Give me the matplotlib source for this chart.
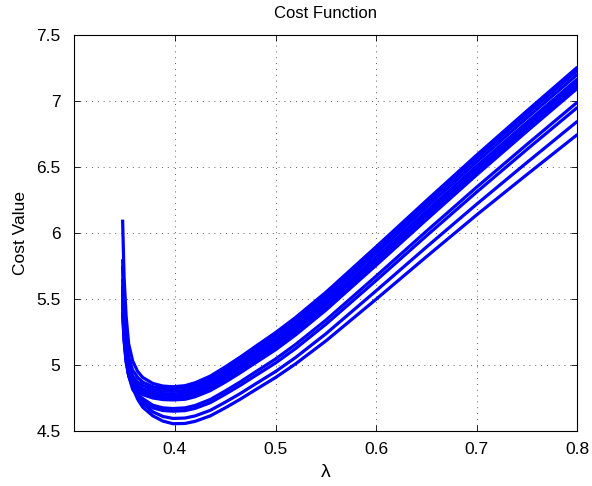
import numpy as np
import matplotlib
matplotlib.use("Agg")
import matplotlib.pyplot as plt

plt.rcParams['font.family'] = ['Liberation Sans', 'DejaVu Sans']

# lambda sample positions
lam = [0.348, 0.3495, 0.3515, 0.354, 0.358, 0.363, 0.368, 0.378, 0.388,
       0.398, 0.41, 0.42, 0.435, 0.45, 0.465, 0.48, 0.50, 0.52, 0.55,
       0.60, 0.65, 0.70, 0.75, 0.80]

# cost curves, top to bottom
cost_1 = [6.10, 5.66, 5.37, 5.16, 5.03, 4.95, 4.905, 4.86, 4.84,
          4.835, 4.843, 4.865, 4.915, 4.985, 5.060, 5.140, 5.245, 5.360, 5.550,
          5.895, 6.245, 6.590, 6.925, 7.255]
cost_2 = [5.80, 5.45, 5.22, 5.06, 4.96, 4.905, 4.87, 4.835, 4.823,
          4.820, 4.828, 4.849, 4.898, 4.968, 5.042, 5.121, 5.225, 5.340, 5.529,
          5.873, 6.223, 6.567, 6.901, 7.230]
cost_3 = [5.60, 5.32, 5.13, 5.00, 4.915, 4.87, 4.845, 4.815, 4.803,
          4.800, 4.807, 4.828, 4.877, 4.945, 5.019, 5.097, 5.200, 5.314, 5.503,
          5.847, 6.195, 6.538, 6.872, 7.200]
cost_4 = [5.50, 5.26, 5.08, 4.965, 4.89, 4.845, 4.82, 4.795, 4.783,
          4.780, 4.787, 4.807, 4.855, 4.923, 4.995, 5.073, 5.175, 5.289, 5.477,
          5.818, 6.165, 6.507, 6.838, 7.165]
cost_5 = [5.45, 5.22, 5.05, 4.945, 4.87, 4.83, 4.805, 4.78, 4.768,
          4.765, 4.771, 4.791, 4.838, 4.905, 4.977, 5.054, 5.155, 5.268, 5.456,
          5.797, 6.143, 6.483, 6.814, 7.140]
cost_6 = [5.40, 5.19, 5.03, 4.93, 4.855, 4.815, 4.79, 4.765, 4.753,
          4.750, 4.756, 4.775, 4.821, 4.888, 4.959, 5.035, 5.135, 5.248, 5.435,
          5.775, 6.120, 6.460, 6.790, 7.115]
cost_7 = [5.40, 5.18, 5.02, 4.92, 4.845, 4.80, 4.775, 4.75, 4.738,
          4.735, 4.740, 4.759, 4.805, 4.870, 4.941, 5.016, 5.115, 5.228, 5.415,
          5.755, 6.100, 6.440, 6.770, 7.095]
cost_8 = [5.55, 5.25, 5.05, 4.92, 4.83, 4.775, 4.745, 4.695, 4.675,
          4.670, 4.675, 4.693, 4.738, 4.803, 4.872, 4.947, 5.045, 5.156, 5.339,
          5.673, 6.013, 6.347, 6.671, 6.990]
cost_9 = [5.60, 5.28, 5.06, 4.92, 4.815, 4.76, 4.73, 4.675, 4.655,
          4.650, 4.654, 4.671, 4.714, 4.778, 4.846, 4.919, 5.015, 5.125, 5.308,
          5.640, 5.978, 6.310, 6.633, 6.950]
cost_10 = [5.65, 5.33, 5.10, 4.95, 4.84, 4.765, 4.71, 4.645, 4.61,
           4.595, 4.598, 4.614, 4.656, 4.718, 4.784, 4.856, 4.950, 5.057, 5.236,
           5.562, 5.893, 6.218, 6.534, 6.845]
cost_11 = [5.75, 5.38, 5.12, 4.97, 4.83, 4.74, 4.68, 4.615, 4.575,
           4.555, 4.557, 4.573, 4.614, 4.675, 4.741, 4.812, 4.905, 5.009, 5.182,
           5.498, 5.820, 6.137, 6.443, 6.745]

curves = [cost_1, cost_2, cost_3, cost_4, cost_5, cost_6,
          cost_7, cost_8, cost_9, cost_10, cost_11]

x_ticks = [0.4, 0.5, 0.6, 0.7, 0.8]
y_ticks = [4.5, 5, 5.5, 6, 6.5, 7, 7.5]
y_labels = ['4.5', '5', '5.5', '6', '6.5', '7', '7.5']

fig = plt.figure(figsize=(5.92, 4.86), dpi=100)
ax = fig.add_axes([0.1255, 0.1132, 0.8500, 0.8154])

for c in curves:
    ax.plot(lam, c, color=(0, 0, 1), linewidth=2.3,
            solid_joinstyle='round', solid_capstyle='butt')

ax.set_xlim(0.3, 0.8)
ax.set_ylim(4.5, 7.5)
ax.set_xticks(x_ticks)
ax.set_xticklabels([str(t) for t in x_ticks])
ax.set_yticks(y_ticks)
ax.set_yticklabels(y_labels)
ax.tick_params(direction='in', length=4, width=0.6, top=True, right=True,
               labelsize=12.5, colors='black')
ax.tick_params(axis='y', pad=10)
ax.tick_params(axis='x', pad=8)
ax.grid(True, color='black', linestyle=(0, (1, 6)), linewidth=0.6, alpha=0.85)
ax.set_axisbelow(True)
for s in ax.spines.values():
    s.set_linewidth(0.8)

ax.set_title('Cost Function', fontsize=12, pad=12)
ax.set_xlabel('λ', fontsize=14, labelpad=5)
ax.set_ylabel('Cost Value', fontsize=12.5, labelpad=6)

fig.savefig('out.png', dpi=100)
